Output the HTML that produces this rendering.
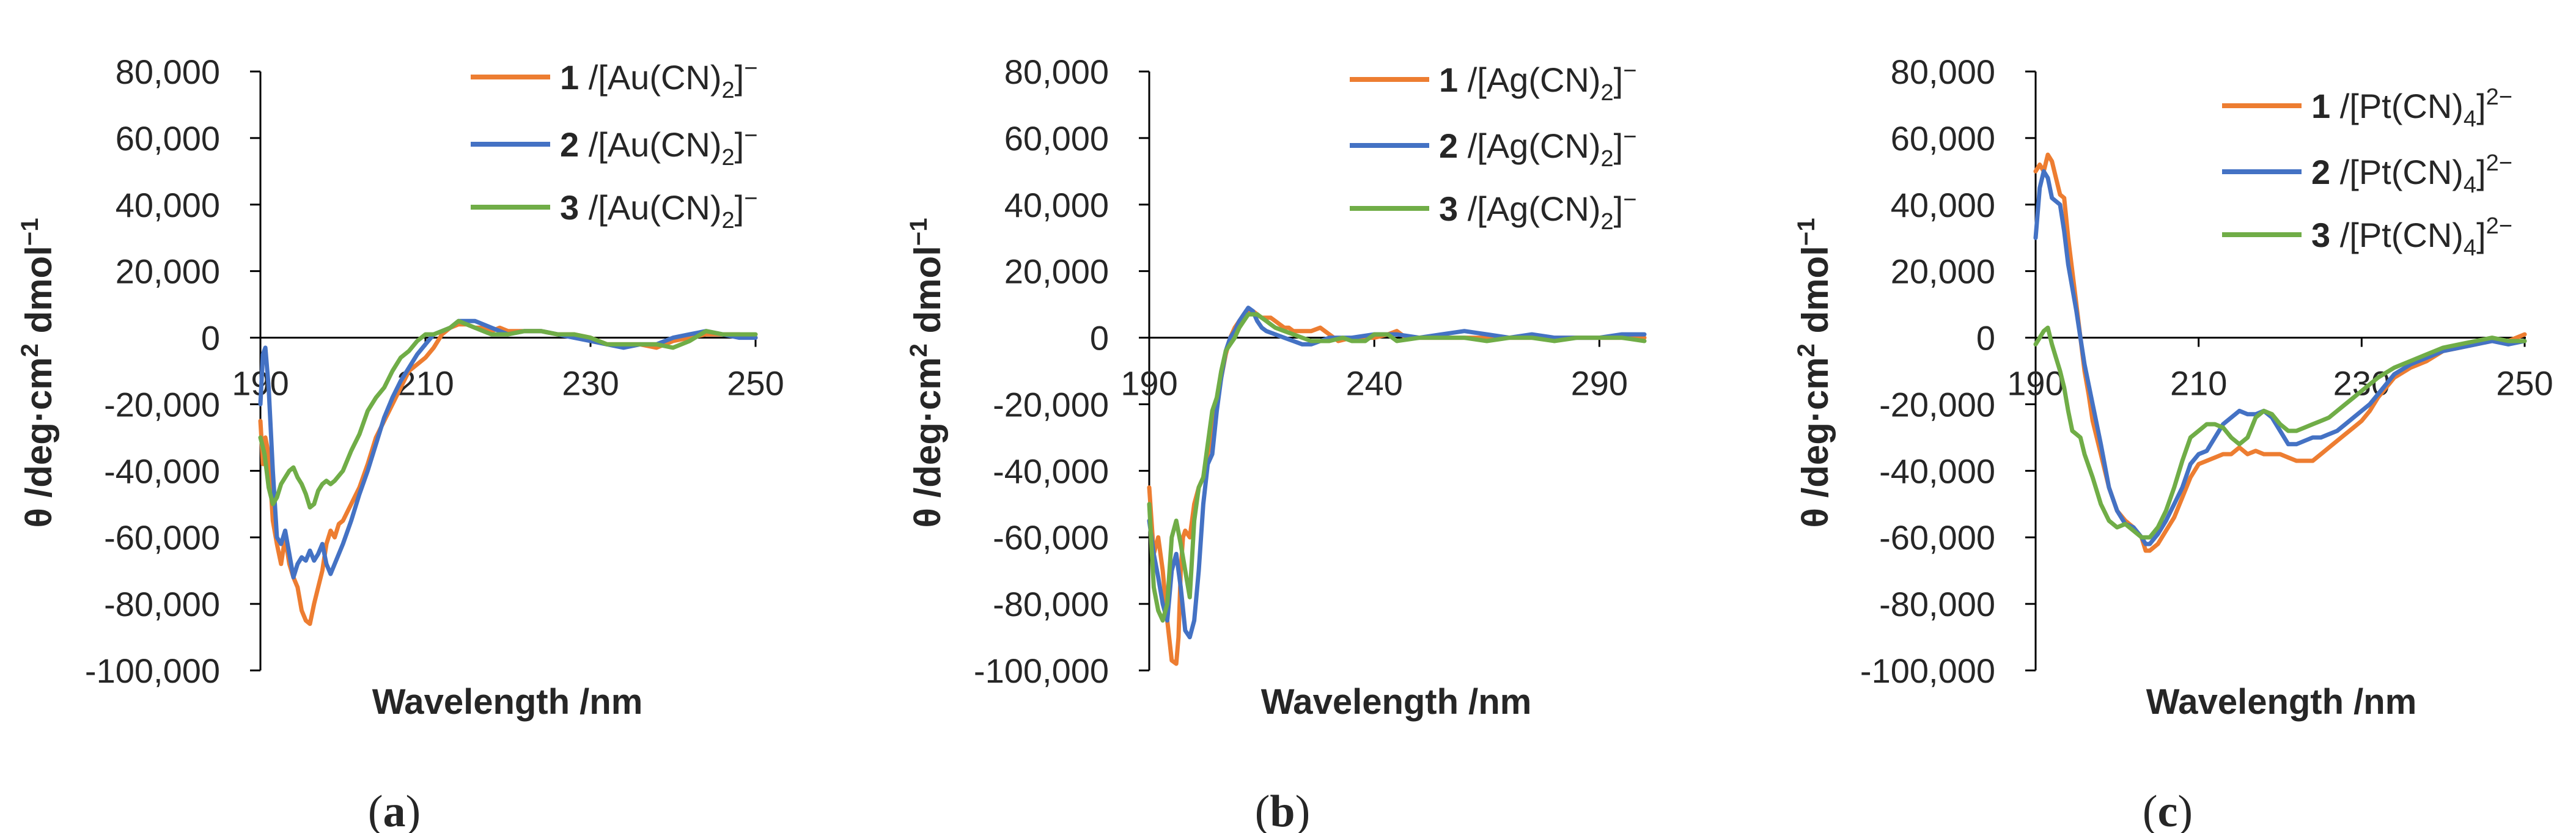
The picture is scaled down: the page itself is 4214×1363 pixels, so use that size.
<!DOCTYPE html>
<html><head><meta charset="utf-8"><style>
html,body{margin:0;padding:0;background:#fff}
svg{display:block}
text{font-family:"Liberation Sans",sans-serif;fill:#262626}
</style></head><body>
<svg id="fig" width="4214" height="1363" viewBox="0 0 4214 1363" xmlns="http://www.w3.org/2000/svg"></svg>
<script>
// Panel (a) data: [wavelength nm, theta in thousands]
const a1 = [[190,-25],[190.3,-38],[190.6,-30],[191,-35],[191.5,-55],[192,-62],[192.5,-68],[193,-60],[193.5,-68],[194,-72],[194.5,-75],[195,-82],[195.5,-85],[196,-86],[196.5,-80],[197,-75],[197.5,-70],[198,-62],[198.5,-58],[199,-60],[199.5,-56],[200,-55],[201,-50],[202,-45],[203,-38],[204,-30],[205,-25],[206,-20],[207,-15],[208,-10],[209,-8],[210,-6],[211,-3],[212,1],[213,3],[214,4],[215,4],[216,3],[217,3],[218,2],[219,3],[220,2],[222,2],[224,2],[226,1],[228,1],[230,0],[232,-2],[234,-2],[236,-2],[238,-3],[240,-1],[242,0],[244,1],[246,1],[248,1],[250,0]];
const a2 = [[190,-20],[190.3,-5],[190.6,-3],[191,-15],[191.5,-40],[192,-60],[192.5,-62],[193,-58],[193.5,-65],[194,-72],[194.5,-68],[195,-66],[195.5,-67],[196,-64],[196.5,-67],[197,-65],[197.5,-62],[198,-68],[198.5,-71],[199,-68],[200,-62],[201,-55],[202,-47],[203,-40],[204,-32],[205,-24],[206,-18],[207,-13],[208,-9],[209,-5],[210,-2],[211,1],[212,2],[213,3],[214,5],[215,5],[216,5],[217,4],[218,3],[220,1],[222,2],[224,2],[226,1],[228,0],[230,-1],[232,-2],[234,-3],[236,-2],[238,-2],[240,0],[242,1],[244,2],[246,1],[248,0],[250,0]];
const a3 = [[190,-30],[190.5,-35],[191,-45],[191.5,-50],[192,-48],[192.5,-44],[193,-42],[193.5,-40],[194,-39],[194.5,-42],[195,-44],[195.5,-47],[196,-51],[196.5,-50],[197,-46],[197.5,-44],[198,-43],[198.5,-44],[199,-43],[200,-40],[201,-34],[202,-29],[203,-22],[204,-18],[205,-15],[206,-10],[207,-6],[208,-4],[209,-1],[210,1],[211,1],[212,2],[213,3],[214,5],[215,4],[216,3],[217,2],[218,1],[220,1],[222,2],[224,2],[226,1],[228,1],[230,0],[232,-2],[234,-2],[236,-2],[238,-2],[240,-3],[242,-1],[244,2],[246,1],[248,1],[250,1]];
// Panel (b)
const b1 = [[190,-45],[190.5,-55],[191,-65],[192,-60],[193,-70],[194,-85],[195,-97],[196,-98],[196.5,-90],[197,-70],[197.5,-60],[198,-58],[199,-60],[200,-50],[201,-45],[202,-42],[203,-35],[204,-28],[205,-20],[206,-12],[207,-5],[208,0],[209,3],[210,5],[211,7],[212,8],[213,8],[214,7],[215,6],[216,6],[217,6],[218,5],[219,4],[220,3],[221,3],[222,2],[224,2],[226,2],[228,3],[230,1],[232,-1],[235,0],[238,0],[240,0],[243,1],[245,2],[247,0],[250,0],[255,0],[260,0],[265,0],[270,0],[275,0],[280,0],[285,0],[290,0],[295,0],[300,0]];
const b2 = [[190,-55],[191,-65],[192,-72],[193,-80],[194,-85],[195,-70],[196,-65],[197,-75],[198,-88],[199,-90],[200,-85],[201,-70],[202,-50],[203,-38],[204,-35],[205,-22],[206,-12],[207,-4],[208,0],[209,2],[210,5],[211,7],[212,9],[213,8],[214,5],[215,3],[216,2],[218,1],[220,0],[222,-1],[224,-2],[226,-2],[228,-1],[230,0],[235,0],[240,1],[245,1],[250,0],[255,1],[260,2],[265,1],[270,0],[275,1],[280,0],[285,0],[290,0],[295,1],[300,1]];
const b3 = [[190,-50],[191,-75],[192,-82],[193,-85],[194,-80],[195,-60],[196,-55],[197,-62],[198,-70],[199,-78],[200,-55],[201,-45],[202,-42],[203,-32],[204,-22],[205,-18],[206,-10],[207,-4],[208,-2],[209,0],[210,3],[211,5],[212,7],[213,7],[214,7],[215,6],[216,5],[217,4],[218,3],[220,2],[222,1],[224,0],[226,-1],[228,-1],[230,-1],[233,0],[235,-1],[238,-1],[240,1],[243,1],[245,-1],[250,0],[255,0],[260,0],[265,-1],[270,0],[275,0],[280,-1],[285,0],[290,0],[295,0],[300,-1]];
// Panel (c)
const c1 = [[190,50],[190.5,52],[191,50],[191.5,55],[192,53],[192.5,48],[193,43],[193.5,42],[194,30],[194.5,20],[195,10],[195.5,0],[196,-10],[196.5,-17],[197,-25],[198,-35],[199,-45],[200,-52],[201,-55],[202,-57],[203,-60],[203.5,-64],[204,-64],[205,-62],[206,-58],[207,-54],[208,-48],[209,-42],[210,-38],[211,-37],[212,-36],[213,-35],[214,-35],[215,-33],[216,-35],[217,-34],[218,-35],[219,-35],[220,-35],[221,-36],[222,-37],[223,-37],[224,-37],[225,-35],[226,-33],[227,-31],[228,-29],[229,-27],[230,-25],[231,-22],[232,-18],[233,-15],[234,-12],[236,-9],[238,-7],[240,-4],[242,-3],[244,-2],[246,-1],[248,-1],[250,1]];
const c2 = [[190,30],[190.5,45],[191,50],[191.5,48],[192,42],[193,40],[193.5,32],[194,22],[194.5,15],[195,8],[195.5,0],[196,-8],[197,-20],[198,-32],[199,-45],[200,-52],[201,-56],[202,-57],[203,-60],[203.5,-62],[204,-62],[205,-59],[206,-55],[207,-50],[208,-45],[209,-38],[210,-35],[211,-34],[212,-30],[213,-26],[214,-24],[215,-22],[216,-23],[217,-23],[218,-22],[219,-24],[220,-28],[221,-32],[222,-32],[223,-31],[224,-30],[225,-30],[226,-29],[227,-28],[228,-26],[229,-24],[230,-22],[231,-20],[232,-17],[233,-14],[234,-11],[236,-8],[238,-6],[240,-4],[242,-3],[244,-2],[246,-1],[248,-2],[250,-1]];
const c3 = [[190,-2],[190.5,0],[191,2],[191.5,3],[192,-2],[192.5,-6],[193,-10],[193.5,-15],[194,-22],[194.5,-28],[195,-29],[195.5,-30],[196,-35],[197,-42],[198,-50],[199,-55],[200,-57],[201,-56],[202,-58],[203,-60],[204,-60],[205,-57],[206,-52],[207,-45],[208,-37],[209,-30],[210,-28],[211,-26],[212,-26],[213,-27],[214,-30],[215,-32],[216,-30],[217,-24],[218,-22],[219,-23],[220,-26],[221,-28],[222,-28],[223,-27],[224,-26],[225,-25],[226,-24],[227,-22],[228,-20],[229,-18],[230,-16],[231,-14],[232,-12],[234,-9],[236,-7],[238,-5],[240,-3],[242,-2],[244,-1],[246,0],[248,-1],[250,-1]];
const yTicks = [80000,60000,40000,20000,0,-20000,-40000,-60000,-80000,-100000];
const xTicksA = [190,210,230,250];
const xTicksB = [190,240,290];
const xTicksC = [190,210,230,250];

const NS = "http://www.w3.org/2000/svg";
const svg = document.getElementById('fig');
const COLORS = ['#ED7D31','#4472C4','#70AD47'];
function mk(tag, attrs, parent){const e=document.createElementNS(NS,tag);for(const k in attrs)e.setAttribute(k,attrs[k]);(parent||svg).appendChild(e);return e;}

function panel(p){
  const g = mk('g',{});
  
  
  const yTop=117, yBot=1097;
  const ys = v => yTop + (80000 - v)/180000*(yBot-yTop);
  const xs = w => p.x0 + (w - p.xmin)/(p.xmax - p.xmin)*(p.x1 - p.x0);
  const ya = mk('line',{x1:p.x0,y1:yTop,x2:p.x0,y2:yBot,stroke:'#000','stroke-width':3},g);
  
  
  yTicks.forEach(t=>{
    const tk = mk('line',{x1:p.x0-17,y1:ys(t),x2:p.x0,y2:ys(t),stroke:'#000','stroke-width':3},g);
    
    
    const lb = mk('text',{x:p.x0-66,y:ys(t)+20,'text-anchor':'end','font-size':56},g);
    
    
    lb.textContent = t.toLocaleString('en-US');
  });
  const xa = mk('line',{x1:p.x0,y1:ys(0),x2:p.xEnd,y2:ys(0),stroke:'#000','stroke-width':3},g);
  
  
  p.xt.forEach(t=>{
    const tk = mk('line',{x1:xs(t),y1:ys(0),x2:xs(t),y2:ys(0)+15,stroke:'#000','stroke-width':3},g);
    
    
    const lb = mk('text',{x:xs(t),y:ys(0)+94,'text-anchor':'middle','font-size':56},g);
    
    
    lb.textContent = t;
  });
  p.series.forEach((s,i)=>{
    const d = s.map((pt,j)=>(j?'L':'M')+xs(pt[0]).toFixed(1)+' '+ys(pt[1]*1000).toFixed(1)).join(' ');
    const path = mk('path',{d:d,fill:'none',stroke:COLORS[i],'stroke-width':7,'stroke-linejoin':'round','stroke-linecap':'round'},g);
    
    
  });
  const yt = mk('text',{transform:`translate(${p.ytx},610) rotate(-90)`,'text-anchor':'middle','font-size':60,'font-weight':'bold',fill:'#000'},g);
  
  
  yt.innerHTML = 'θ /deg·cm<tspan dy="-22" font-size="40">2</tspan><tspan dy="22"> dmol</tspan><tspan dy="-22" font-size="40">−1</tspan>';
  const xt = mk('text',{x:p.xtc,y:1168,'text-anchor':'middle','font-size':58,'font-weight':'bold',fill:'#000'},g);
  
  
  xt.textContent = 'Wavelength /nm';
  const cap = mk('text',{x:p.capx,y:1352,'text-anchor':'middle','font-size':74,fill:'#000',style:'font-family:"Liberation Serif",serif'},g);
  
  
  cap.innerHTML = '(<tspan font-weight="bold">'+p.id+'</tspan>)';
  p.legY.forEach((ly,i)=>{
    const lg = mk('g',{},g);
    
    
    mk('line',{x1:p.legX,y1:ly,x2:p.legX+130,y2:ly,stroke:COLORS[i],'stroke-width':8},lg);
    const tx = mk('text',{x:p.legX+146,y:ly+20,'font-size':56},lg);
    tx.innerHTML = '<tspan font-weight="bold">'+(i+1)+'</tspan> '+p.leg;
  });
}

panel({id:'a',x0:426,x1:1236,xmin:190,xmax:250,xEnd:1239,xt:xTicksA,series:[a1,a2,a3],ytx:84,xtc:830,capx:645,
  legX:770,legY:[126,236,339],leg:'/[Au(CN)<tspan dy="14" font-size="38">2</tspan><tspan dy="-14">]</tspan><tspan dy="-22" font-size="38">−</tspan>'});
panel({id:'b',x0:1880,x1:2690,xmin:190,xmax:300,xEnd:2693,xt:xTicksB,series:[b1,b2,b3],ytx:1538,xtc:2284,capx:2098,
  legX:2208,legY:[130,238,341],leg:'/[Ag(CN)<tspan dy="14" font-size="38">2</tspan><tspan dy="-14">]</tspan><tspan dy="-22" font-size="38">−</tspan>'});
panel({id:'c',x0:3330,x1:4130,xmin:190,xmax:250,xEnd:4132,xt:xTicksC,series:[c1,c2,c3],ytx:2990,xtc:3732,capx:3546,
  legX:3635,legY:[173,281,384],leg:'/[Pt(CN)<tspan dy="14" font-size="38">4</tspan><tspan dy="-14">]</tspan><tspan dy="-22" font-size="38">2−</tspan>'});
</script>
</body></html>
